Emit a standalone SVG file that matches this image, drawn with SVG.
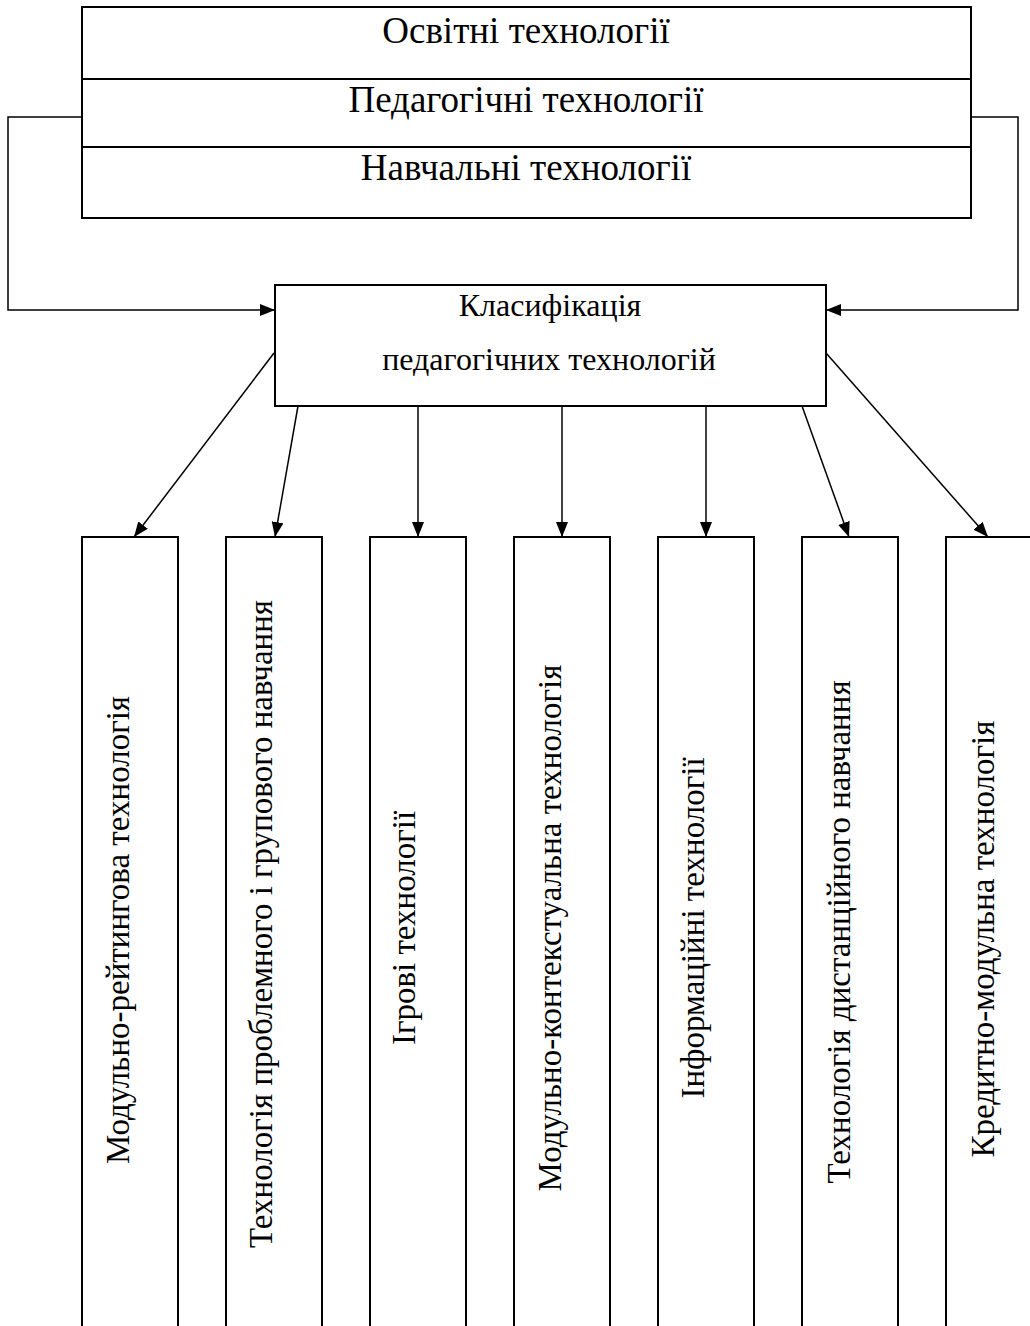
<svg xmlns="http://www.w3.org/2000/svg" width="1030" height="1326" viewBox="0 0 1030 1326">
<style>
.box{fill:#fff;stroke:#000;stroke-width:2}
.div{stroke:#000;stroke-width:2}
.con{fill:none;stroke:#000;stroke-width:1.5}
.t{font-family:"Liberation Serif","Times New Roman",serif;fill:#000;text-anchor:middle}
.h{font-size:37px}
.c{font-size:32px}
.v{font-size:33px}
</style>
<defs>
<marker id="ah" markerUnits="userSpaceOnUse" markerWidth="16" markerHeight="12" refX="15" refY="6" orient="auto">
<path d="M0,0 L15,6 L0,12 z" fill="#000"/>
</marker>
</defs>
<rect width="1030" height="1326" fill="#fff"/>
<g id="connectors">
<polyline class="con" points="82,117 8,117 8,310 275,310" marker-end="url(#ah)"/>
<polyline class="con" points="971,117 1018,117 1018,310 826,310" marker-end="url(#ah)"/>
<line class="con" x1="274" y1="353" x2="134" y2="537" marker-end="url(#ah)"/>
<line class="con" x1="298" y1="406" x2="275" y2="537" marker-end="url(#ah)"/>
<line class="con" x1="418" y1="406" x2="418" y2="537" marker-end="url(#ah)"/>
<line class="con" x1="562" y1="406" x2="562" y2="537" marker-end="url(#ah)"/>
<line class="con" x1="706" y1="406" x2="706" y2="537" marker-end="url(#ah)"/>
<line class="con" x1="802" y1="406" x2="849" y2="537" marker-end="url(#ah)"/>
<line class="con" x1="826" y1="353" x2="988" y2="537" marker-end="url(#ah)"/>
</g>
<g id="top">
<rect class="box" x="82" y="7" width="889" height="211"/>
<line class="div" x1="82" y1="79" x2="971" y2="79"/>
<line class="div" x1="82" y1="147" x2="971" y2="147"/>
<text class="t h" x="526" y="43">Освітні технології</text>
<text class="t h" x="526" y="112">Педагогічні технології</text>
<text class="t h" x="526" y="180">Навчальні технології</text>
</g>
<g id="center">
<rect class="box" x="275" y="285" width="551" height="121"/>
<text class="t c" x="550" y="316">Класифікація</text>
<text class="t c" x="549" y="370">педагогічних технологій</text>
</g>
<g id="b1"><rect class="box" x="82" y="537" width="96" height="810"/><text class="t v" transform="translate(129,930) rotate(-90)">Модульно-рейтингова технологія</text></g>
<g id="b2"><rect class="box" x="226" y="537" width="96" height="810"/><text class="t v" transform="translate(272,924) rotate(-90)">Технологія проблемного і групового навчання</text></g>
<g id="b3"><rect class="box" x="370" y="537" width="96" height="810"/><text class="t v" transform="translate(415,928) rotate(-90)">Ігрові технології</text></g>
<g id="b4"><rect class="box" x="514" y="537" width="96" height="810"/><text class="t v" transform="translate(561,928) rotate(-90)">Модульно-контекстуальна технологія</text></g>
<g id="b5"><rect class="box" x="658" y="537" width="96" height="810"/><text class="t v" transform="translate(704,928) rotate(-90)">Інформаційні технології</text></g>
<g id="b6"><rect class="box" x="802" y="537" width="96" height="810"/><text class="t v" transform="translate(850,932) rotate(-90)">Технологія дистанційного навчання</text></g>
<g id="b7"><rect class="box" x="946" y="537" width="96" height="810"/><text class="t v" transform="translate(994,939) rotate(-90)">Кредитно-модульна технологія</text></g>
</svg>
